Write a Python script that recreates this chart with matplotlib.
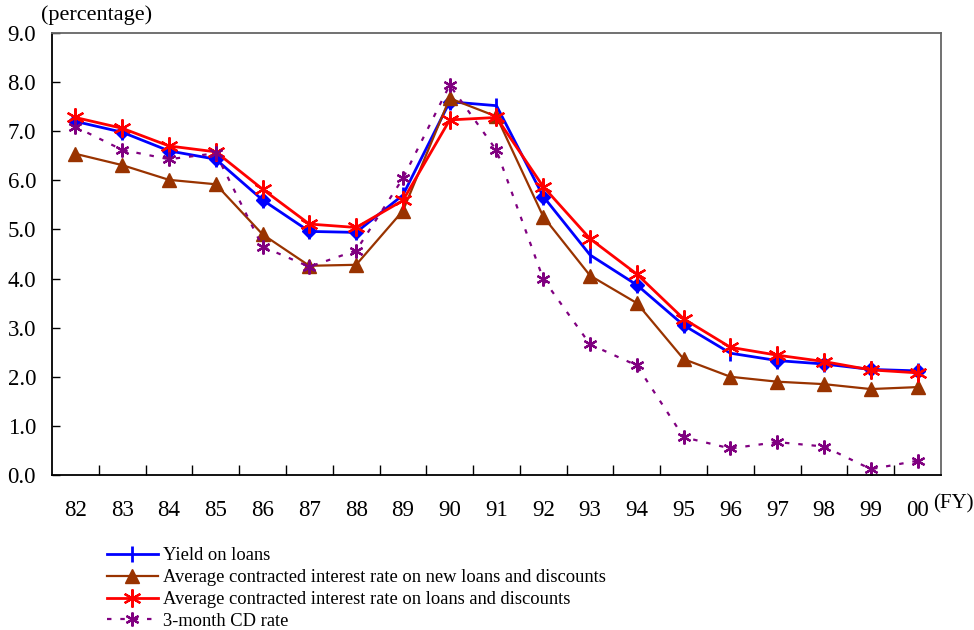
import matplotlib
matplotlib.use("Agg")
import matplotlib.pyplot as plt
from matplotlib.ticker import FixedLocator, NullFormatter

plt.rcParams['font.family'] = ['Liberation Serif', 'DejaVu Serif']

years = ["82", "83", "84", "85", "86", "87", "88", "89", "90", "91",
         "92", "93", "94", "95", "96", "97", "98", "99", "00"]

yield_on_loans = [7.20, 6.98, 6.60, 6.43, 5.60, 4.96, 4.94, 5.70, 7.60, 7.52,
                  5.67, 4.48, 3.87, 3.05, 2.48, 2.33, 2.26, 2.15, 2.12]
new_loans_rate = [6.54, 6.31, 6.01, 5.92, 4.90, 4.26, 4.28, 5.38, 7.67, 7.30,
                  5.26, 4.06, 3.50, 2.36, 2.00, 1.90, 1.85, 1.75, 1.79]
loans_rate = [7.28, 7.06, 6.70, 6.58, 5.82, 5.11, 5.04, 5.59, 7.23, 7.28,
              5.87, 4.81, 4.09, 3.18, 2.60, 2.44, 2.31, 2.14, 2.08]
cd_rate = [7.09, 6.62, 6.43, 6.55, 4.65, 4.24, 4.57, 6.04, 7.94, 6.61,
           3.99, 2.66, 2.23, 0.77, 0.54, 0.67, 0.58, 0.12, 0.29]
# years where the yield series shows a diamond marker
diamond_years = ["82", "83", "84", "85", "86", "87", "88", "90", "92",
                 "94", "95", "97", "98", "99", "00"]

labels = ["Yield on loans",
          "Average contracted interest rate on new loans and discounts",
          "Average contracted interest rate on loans and discounts",
          "3-month CD rate"]

fig = plt.figure(figsize=(9.74, 6.3), dpi=100)
ax = fig.add_axes([52/974, 1 - 475/630, (941-52)/974, (475-33)/630])

x = list(range(len(years)))
blue, brown, red, purple = "#0000FF", "#993300", "#FF0000", "#800080"

h1, = ax.plot(x, yield_on_loans, color=blue, lw=2, marker="|", ms=12, mew=2)
dx = [years.index(y) for y in diamond_years]
ax.plot(dx, [yield_on_loans[i] for i in dx], ls="none", marker="D",
        color=blue, ms=7.5)
h2, = ax.plot(x, new_loans_rate, color=brown, lw=1.6, marker="^", ms=9.5)
h3, = ax.plot(x, loans_rate, color=red, lw=2, marker=(6, 2, 0), ms=13, mew=1.6)
h4, = ax.plot(x, cd_rate, color=purple, lw=1.6, ls=(0, (2, 4)),
              marker=(6, 2, 0), ms=10, mew=1.6)

ax.set_xlim(-0.5, len(years) - 0.5)
ax.set_ylim(0, 9)
ax.set_yticks([i * 1.0 for i in range(10)])
ax.set_yticklabels([f"{i:.1f}" for i in range(10)])
ax.set_xticks(x)
ax.set_xticklabels(years)
ax.xaxis.set_minor_locator(FixedLocator([i + 0.5 for i in range(len(years) - 1)]))
ax.xaxis.set_minor_formatter(NullFormatter())
ax.tick_params(axis="x", which="major", length=0, labelsize=16.5, pad=18)
ax.tick_params(axis="x", which="minor", direction="in", length=7, width=1)
ax.tick_params(axis="y", direction="in", length=6, width=1, labelsize=16.5, pad=11.5)

for s in ["left", "bottom"]:
    ax.spines[s].set_color("black")
    ax.spines[s].set_linewidth(1.3)
for s in ["top", "right"]:
    ax.spines[s].set_color("#666666")
    ax.spines[s].set_linewidth(1.3)

fig.text(41/974, 1 - 15/630, "(percentage)", fontsize=16, va="center", ha="left")
fig.text(933/974, 1 - 504/630, "(FY)", fontsize=15, va="center", ha="left")

leg = fig.legend([h1, h2, h3, h4], labels, loc="upper left",
                 bbox_to_anchor=(107/974, 1 - 547/630), frameon=False,
                 fontsize=13.3, handlelength=2.75, handletextpad=0.27,
                 labelspacing=0.27, borderpad=0, borderaxespad=0)

fig.savefig("out.png", dpi=100)
